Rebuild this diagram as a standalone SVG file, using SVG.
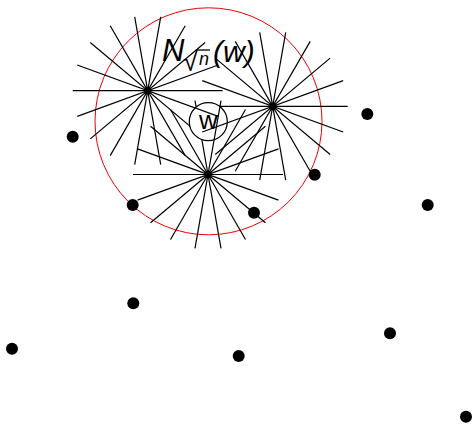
<svg xmlns="http://www.w3.org/2000/svg" xmlns:xlink="http://www.w3.org/1999/xlink" width="472" height="425" viewBox="0 0 472 425">
<style>
.spoke{stroke:#000;stroke-width:1.2;fill:none}
.dot{fill:#000}
.lbl{font-family:"Liberation Sans",Arial,sans-serif;fill:#000}
</style>
<defs>
<path id="star" class="spoke" d="M-75 0H75M70.48-25.65L-70.48 25.65M57.45-48.21L-57.45 48.21M37.5-64.95L-37.5 64.95M13.02-73.86L-13.02 73.86M-13.02-73.86L13.02 73.86M-37.5-64.95L37.5 64.95M-57.45-48.21L57.45 48.21M-70.48-25.65L70.48 25.65"/>
<clipPath id="wclip"><circle cx="208.3" cy="121.7" r="19"/></clipPath>
</defs>
<rect width="472" height="425" fill="#fff"/>
<g id="neighbourhood">
<circle cx="208.5" cy="121.3" r="113.5" fill="none" stroke="#e00" stroke-width="1"/>
</g>
<g id="connectors">
<use xlink:href="#star" transform="translate(147.7,90.7)"/>
<use xlink:href="#star" transform="translate(272.7,106.3)"/>
<use xlink:href="#star" transform="translate(208,174.5)"/>
</g>
<g id="w">
<circle cx="208.3" cy="121.7" r="19" fill="#fff" stroke="#000" stroke-width="1.2"/>
<g clip-path="url(#wclip)" class="spoke">
<line x1="77.2" y1="65.05" x2="218.2" y2="116.35"/>
<line x1="343.2" y1="80.65" x2="202.2" y2="131.95"/>
<line x1="221.02" y1="100.64" x2="194.98" y2="248.36"/>
</g>
<text class="lbl" x="208.3" y="129" font-size="26" text-anchor="middle">w</text>
</g>
<g id="label">
<text class="lbl" x="162" y="61" font-size="31" font-style="italic">N</text>
<text class="lbl" x="183" y="71" font-size="27">√</text>
<line x1="197" y1="50" x2="210" y2="50" stroke="#000" stroke-width="1.3"/>
<text class="lbl" x="199" y="65" font-size="18" font-style="italic">n</text>
<text class="lbl" x="213" y="62" font-size="30" font-style="italic">(w)</text>
</g>
<g id="dots">
<circle class="dot" cx="72.7" cy="136.7" r="6"/>
<circle class="dot" cx="132.7" cy="205" r="6"/>
<circle class="dot" cx="367.3" cy="114" r="6"/>
<circle class="dot" cx="314.7" cy="174.7" r="6"/>
<circle class="dot" cx="427.7" cy="205" r="6"/>
<circle class="dot" cx="254" cy="212.7" r="6"/>
<circle class="dot" cx="133.3" cy="303.3" r="6"/>
<circle class="dot" cx="12" cy="348.7" r="6"/>
<circle class="dot" cx="238.7" cy="356" r="6"/>
<circle class="dot" cx="390" cy="333.3" r="6"/>
<circle class="dot" cx="466" cy="416.7" r="6"/>
</g>
</svg>
